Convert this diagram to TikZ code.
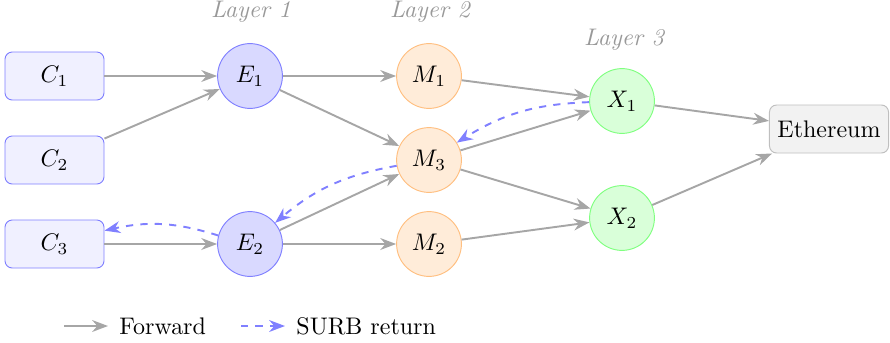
\documentclass[tikz,border=0pt]{standalone}
\usetikzlibrary{arrows.meta}
\begin{document}
\begin{tikzpicture}[x=0.41667pt, y=-0.41667pt,
  client/.style={draw=blue!50, fill=blue!6, rounded corners=3pt,
    minimum width=41.25pt, minimum height=20pt, inner sep=0pt},
  entry/.style={circle, draw=blue!50, fill=blue!15, minimum size=27pt, inner sep=0pt},
  mix/.style={circle, draw=orange!50, fill=orange!15, minimum size=27pt, inner sep=0pt},
  exitn/.style={circle, draw=green!50, fill=green!15, minimum size=27pt, inner sep=0pt},
  chain/.style={draw=gray!50, fill=gray!10, rounded corners=3pt,
    minimum height=20pt},
  layer/.style={text=gray!80, font=\itshape},
  fwd/.style={draw=gray!70, thick, -{Stealth}},
  surb/.style={draw=blue!50, thick, dashed, -{Stealth}}]
\useasboundingbox (0,0) rectangle (890,342);

% clients
\node[client] (c1) at (54.5,76)  {$C_1$};
\node[client] (c2) at (54.5,160) {$C_2$};
\node[client] (c3) at (54.5,244) {$C_3$};

% entry layer
\node[entry] (e1) at (250,76)  {$E_1$};
\node[entry] (e2) at (250,244) {$E_2$};

% mix layer
\node[mix] (m1) at (429,76)  {$M_1$};
\node[mix] (m3) at (429,160) {$M_3$};
\node[mix] (m2) at (429,244) {$M_2$};

% exit layer
\node[exitn] (x1) at (622,101) {$X_1$};
\node[exitn] (x2) at (622,218) {$X_2$};

% chain
\node[chain] (eth) at (829,129) {Ethereum};

% layer captions
\node[layer] (l1) at (251,12) {Layer 1};
\node[layer] (l2) at (430,12) {Layer 2};
\node[layer] (l3) at (624,40) {Layer 3};

% forward paths
\draw[fwd] (c1) -- (e1);
\draw[fwd] (c2) -- (e1);
\draw[fwd] (c3) -- (e2);
\draw[fwd] (e1) -- (m1);
\draw[fwd] (e1) -- (m3);
\draw[fwd] (e2) -- (m3);
\draw[fwd] (e2) -- (m2);
\draw[fwd] (m1) -- (x1);
\draw[fwd] (m3) -- (x1);
\draw[fwd] (m3) -- (x2);
\draw[fwd] (m2) -- (x2);
\draw[fwd] (x1) -- (eth);
\draw[fwd] (x2) -- (eth);

% SURB return path
\draw[surb] (x1) to[bend right=15] (m3);
\draw[surb] (m3) to[bend right=15] (e2);
\draw[surb] (e2) to[bend right=15] (c3);

% legend
\coordinate (lf1) at (64,326);
\coordinate (lf2) at (108,326);
\coordinate (ls1) at (241,326);
\coordinate (ls2) at (285,326);
\draw[fwd] (lf1) -- (lf2);
\node[anchor=west, inner sep=0pt] (lft) at (119,326) {Forward};
\draw[surb] (ls1) -- (ls2);
\node[anchor=west, inner sep=0pt] (lst) at (296,326) {SURB return};
\end{tikzpicture}
\end{document}
